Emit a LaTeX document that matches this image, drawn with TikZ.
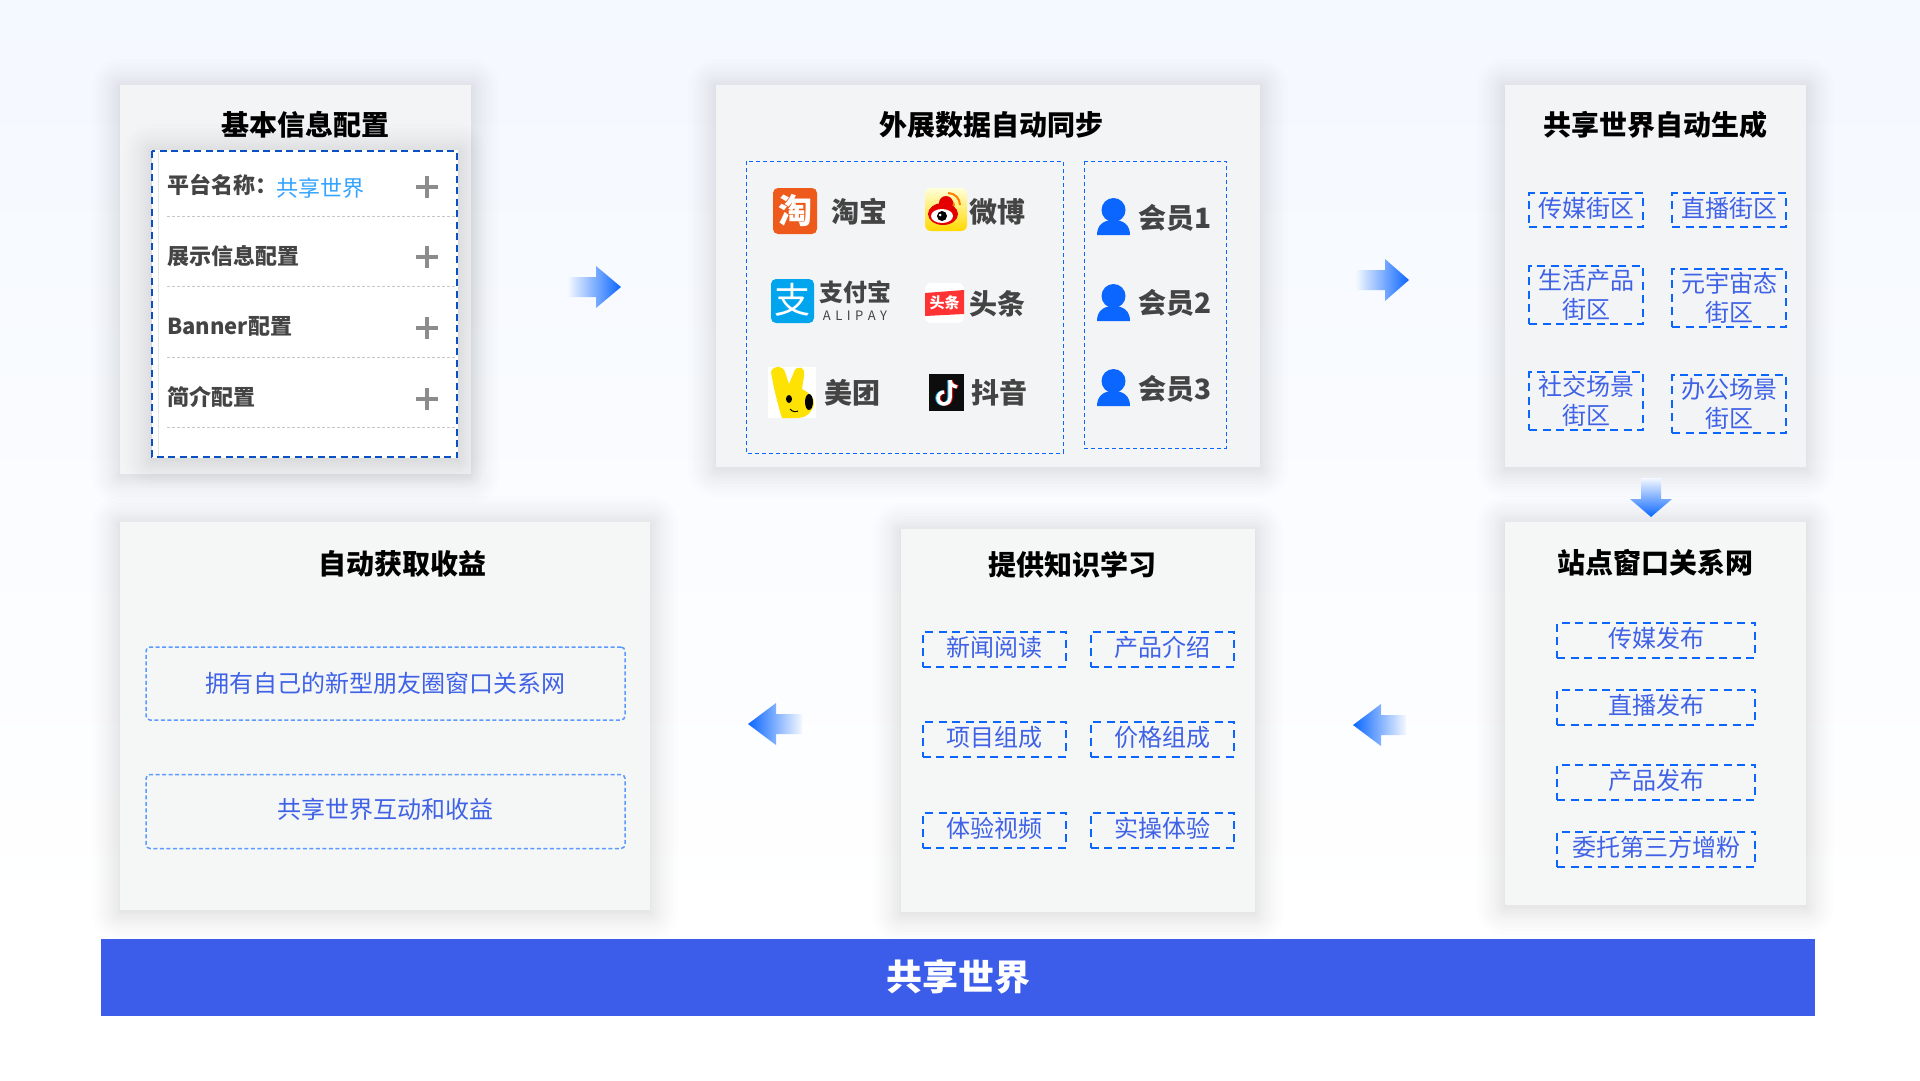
\documentclass[tikz,border=0pt]{standalone}
\usepackage{fontspec}
\setmainfont{Noto Sans CJK SC}
\usepackage{tikz}
\usetikzlibrary{calc}
\definecolor{bgtop}{HTML}{F4F8FF}
\definecolor{panelbg}{HTML}{F3F4F6}
\definecolor{panellow}{HTML}{F5F6F6}
\definecolor{linkblue}{HTML}{0A66FF}
\definecolor{navyblue}{HTML}{0B4FC4}
\definecolor{softblue}{HTML}{5B9BFF}
\definecolor{inkblue}{HTML}{3F62E6}
\definecolor{barblue}{HTML}{3C5CEA}
\definecolor{inkgray}{HTML}{444444}
\definecolor{taobaored}{HTML}{EE5A1C}
\definecolor{alipayblue}{HTML}{00A5EE}
\newcommand{\fs}[1]{\fontsize{#1}{#1}\selectfont}
\newcommand{\dropline}[1]{\raisebox{-2pt}{#1}}
% 影
\newcommand{\softshadow}[4]{%
  \foreach \i in {1,2,4,6,8,10,12,15,18,21,24,28}{%
    \fill[black!70!blue,opacity=0.007,rounded corners=\i pt]({#1-\i},{#2-\i+2})rectangle({#3+\i},{#4+\i+2});}}
% 人
\newcommand{\member}[2]{%
  \begin{scope}[shift={(#1,#2)}]
    \fill[linkblue](0,-25)circle(12);
    \fill[linkblue](-16.5,0)..controls(-16.5,-10)and(-10,-15)..(0,-15)..controls(10,-15)and(16.5,-10)..(16.5,0)--cycle;
  \end{scope}}
\tikzset{
  paneltitle/.style={font=\fs{28}\bfseries,text=black,inner sep=0pt},
  dashbox/.style={draw=linkblue,line width=2pt,dash pattern=on 8pt off 5.5pt,text=inkblue,font=\fontsize{24}{29}\selectfont,align=center,inner sep=0pt},
  dashline/.style={dashbox,text height=17pt,text depth=3pt},
  softbox/.style={draw=softblue,line width=1.5pt,dash pattern=on 4pt off 2.5pt,rounded corners=4pt,text=inkblue,font=\fs{24},inner sep=0pt},
  thinbox/.style={draw=linkblue,line width=1pt,dash pattern=on 4pt off 3pt},
  rowlabel/.style={font=\fs{22}\bfseries,text=inkgray,anchor=west,inner sep=0pt},
  brandlabel/.style={font=\fs{28}\bfseries,text=inkgray,inner sep=0pt},
  plusmark/.style={draw=gray!90,line width=3.5pt},
}
\begin{document}
\begin{tikzpicture}[x=1pt,y=-1pt]
  \useasboundingbox(0,0)rectangle(1920,1080);
  % 背景
  \shade[top color=bgtop,bottom color=white](0,0)rectangle(1920,920);
  \fill[white](0,920)rectangle(1920,1080);
  % 基本信息
  \softshadow{120}{85}{471}{474}
  \fill[panelbg](120,85)rectangle(471,474);
  \node[paneltitle](title1)at(305,125){基本信息配置};
  \softshadow{152}{150}{458}{458}
  \fill[white](152,150)rectangle(458,458);
  \draw[black!10,line width=1pt](158,151)--(158,457);
  \draw[navyblue,line width=2pt,dash pattern=on 7pt off 4.5pt](152,151)rectangle(457,457);
  \foreach \y in {216,286,357,427}{\draw[black!22,line width=1pt,dash pattern=on 3pt off 2pt](167,\y)--(456,\y);}
  \foreach \y in {187,257,328,399}{\draw[plusmark](416,\y)--(438,\y)(427,\y-11)--(427,\y+11);}
  \node[rowlabel](row1)at(167,185){平台名称：};
  \node[font=\fs{22},text=blue!45!cyan!80!white,anchor=west,inner sep=0pt](row1v)at(276,188){共享世界};
  \node[rowlabel](row2)at(167,256){展示信息配置};
  \node[rowlabel](row3)at(167,326){Banner配置};
  \node[rowlabel](row4)at(167,397){简介配置};
  % 外展数据
  \softshadow{716}{85}{1260}{467}
  \fill[panelbg](716,85)rectangle(1260,467);
  \node[paneltitle](title2)at(991,125){外展数据自动同步};
  \draw[thinbox](746,161)rectangle(1063,453);
  \draw[thinbox](1084,161)rectangle(1226,448);
  % 淘宝
  \fill[taobaored,rounded corners=5pt](773,188)rectangle(817,234);
  \node[font=\fs{34}\bfseries,text=white,inner sep=0pt](taobaoicon)at(795,211){淘};
  \node[brandlabel](taobao)at(859,212){淘宝};
  % 微博
  \shade[top color=yellow!15!white,bottom color=yellow!70!orange,rounded corners=6pt](925,188)rectangle(967,231);
  \draw[orange,line width=2pt](948,193)arc(-90:0:12);
  \draw[orange,line width=2pt](948,200)arc(-90:0:6);
  \fill[red!90!black](943,214)ellipse(15 and 11);
  \fill[red!90!black](946,203)circle(7);
  \fill[white](942,216)ellipse(11 and 7);
  \fill[black](942,216)circle(5);
  \fill[white](940,215)circle(1.5);
  \node[brandlabel](weibo)at(997,212){微博};
  % 支付宝
  \fill[alipayblue,rounded corners=5pt](771,279)rectangle(814,323);
  \node[font=\fs{36},text=white,inner sep=0pt](alipayicon)at(792,300){支};
  \node[font=\fs{24}\bfseries,text=inkgray,inner sep=0pt](alipay)at(855,292.5){支付宝};
  \node[font=\fs{13},text=inkgray,inner sep=0pt](alipayen)at(855,316){A\hspace{4.5pt}L\hspace{4.5pt}I\hspace{4.5pt}P\hspace{4.5pt}A\hspace{4.5pt}Y};
  % 头条
  \fill[white,rounded corners=6pt](925,283)rectangle(964,323);
  \fill[red!80!white](925,293)--(964,290)--(964,314)--(925,316)--cycle;
  \node[font=\fs{15}\bfseries,text=white,inner sep=0pt](toutiaoicon)at(944.5,303){头条};
  \node[brandlabel](toutiao)at(997,304){头条};
  % 美团
  \fill[white](768,367)rectangle(816,418);
  \fill[yellow!85!orange](771,372)..controls(773,365)and(783,365)..(785,372)--(789,384)--(794,372)..controls(796,365)and(806,366)..(804,376)--(802,389)..controls(808,392)and(815,397)..(814,404)..controls(812,414)and(804,418)..(798,418)--(782,418)..controls(778,405)and(774,390)..cycle;
  \fill[black](789,399)ellipse(3 and 4);
  \fill[black](809,402)ellipse(4 and 8);
  \draw[black,line width=1pt](790,409)..controls(792,412)and(796,412)..(798,411);
  \node[brandlabel](meituan)at(852,393){美团};
  % 抖音
  \fill[black!95](929,374)rectangle(964,411);
  \foreach \dx/\col in {-1/cyan,1/red,0/white}{
    \draw[\col,line width=3.5pt]({950+\dx},380)--({950+\dx},398)arc(0:270:6);
    \draw[\col,line width=3.5pt]({950+\dx},381)..controls({951+\dx},385)and({954+\dx},387)..({957+\dx},387);}
  \node[brandlabel](douyin)at(999,393){抖音};
  % 会员
  \member{1113.5}{235}
  \member{1113.5}{321}
  \member{1113.5}{406}
  \node[brandlabel,anchor=west](member1)at(1138,218){会员1};
  \node[brandlabel,anchor=west](member2)at(1138,303){会员2};
  \node[brandlabel,anchor=west](member3)at(1138,389){会员3};
  % 共享世界
  \softshadow{1505}{85}{1806}{467}
  \fill[panelbg](1505,85)rectangle(1806,467);
  \node[paneltitle](title3)at(1655,125){共享世界自动生成};
  \node[dashline,minimum width=114pt,minimum height=34pt](zone1)at(1586,210){传媒街区};
  \node[dashline,minimum width=114pt,minimum height=34pt](zone2)at(1729,210){直播街区};
  \node[dashbox,minimum width=114pt,minimum height=58pt](zone3)at(1586,295){\dropline{生活产品}\\\dropline{街区}};
  \node[dashbox,minimum width=114pt,minimum height=58pt](zone4)at(1729,298){\dropline{元宇宙态}\\\dropline{街区}};
  \node[dashbox,minimum width=114pt,minimum height=58pt](zone5)at(1586,401){\dropline{社交场景}\\\dropline{街区}};
  \node[dashbox,minimum width=114pt,minimum height=58pt](zone6)at(1729,404){\dropline{办公场景}\\\dropline{街区}};
  % 站点
  \softshadow{1505}{522}{1806}{905}
  \fill[panellow](1505,522)rectangle(1806,905);
  \node[paneltitle](title4)at(1655,563){站点窗口关系网};
  \node[dashline,minimum width=198pt,minimum height=35pt](post1)at(1656,640){传媒发布};
  \node[dashline,minimum width=198pt,minimum height=35pt](post2)at(1656,707){直播发布};
  \node[dashline,minimum width=198pt,minimum height=35pt](post3)at(1656,782){产品发布};
  \node[dashline,minimum width=198pt,minimum height=35pt](post4)at(1656,849){委托第三方增粉};
  % 知识学习
  \softshadow{901}{529}{1255}{912}
  \fill[panellow](901,529)rectangle(1255,912);
  \node[paneltitle](title5)at(1072,565){提供知识学习};
  \node[dashline,minimum width=143pt,minimum height=35pt](learn1)at(994,649){新闻阅读};
  \node[dashline,minimum width=143pt,minimum height=35pt](learn2)at(1162,649){产品介绍};
  \node[dashline,minimum width=143pt,minimum height=35pt](learn3)at(994,739){项目组成};
  \node[dashline,minimum width=143pt,minimum height=35pt](learn4)at(1162,739){价格组成};
  \node[dashline,minimum width=143pt,minimum height=35pt](learn5)at(994,830){体验视频};
  \node[dashline,minimum width=143pt,minimum height=35pt](learn6)at(1162,830){实操体验};
  % 收益
  \softshadow{120}{522}{650}{910}
  \fill[panellow](120,522)rectangle(650,910);
  \node[paneltitle](title6)at(402,564){自动获取收益};
  \node[softbox,minimum width=479pt,minimum height=73pt,text width=475pt,align=center](gain1)at(385.5,683.5){拥有自己的新型朋友圈窗口关系网};
  \node[softbox,minimum width=479pt,minimum height=74pt,text width=475pt,align=center,text height=17pt,text depth=3pt](gain2)at(385.5,811.5){共享世界互动和收益};
  % 箭头
  \shade[left color=bgtop,right color=linkblue](568,277)--(596,277)--(596,266)--(621,287)--(596,308)--(596,297)--(568,297)--cycle;
  \shade[left color=bgtop,right color=linkblue](1356,270)--(1385,270)--(1385,259)--(1409,280)--(1385,301)--(1385,290)--(1356,290)--cycle;
  \shade[top color=bgtop,bottom color=linkblue](1641,478)--(1661,478)--(1661,499)--(1672,499)--(1651,517)--(1630,499)--(1641,499)--cycle;
  \shade[left color=linkblue,right color=bgtop](748,724)--(776,703)--(776,714)--(802,714)--(802,734)--(776,734)--(776,745)--cycle;
  \shade[left color=linkblue,right color=bgtop](1353,725)--(1381,704)--(1381,715)--(1406,715)--(1406,735)--(1381,735)--(1381,746)--cycle;
  % 底部
  \fill[barblue](101,939)rectangle(1815,1016);
  \node[font=\fs{36}\bfseries,text=white,inner sep=0pt](bartitle)at(958,977){共享世界};
\end{tikzpicture}
\end{document}
